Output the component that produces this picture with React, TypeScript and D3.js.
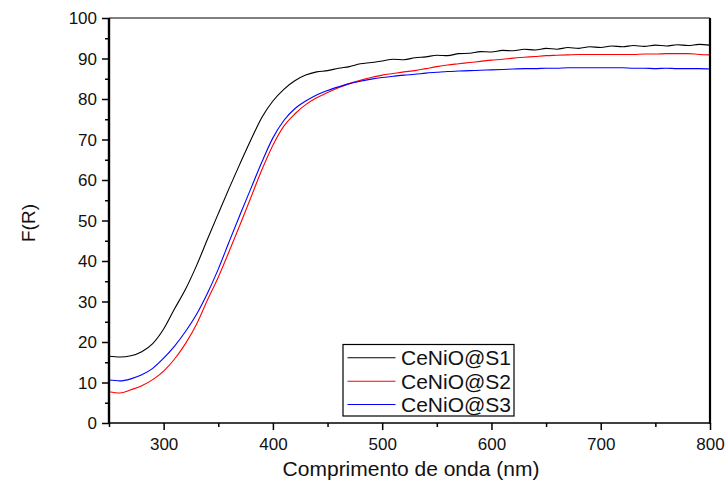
import React, { useEffect, useRef } from "react";
import * as d3 from "d3";

const wavelengths: number[] = [
  250, 260, 270, 280, 290, 300, 310, 320, 330, 340, 350, 360, 370, 380, 390, 400,
  410, 420, 430, 440, 450, 460, 470, 480, 490, 500, 510, 520, 530, 540, 550, 560,
  570, 580, 590, 600, 610, 620, 630, 640, 650, 660, 670, 680, 690, 700, 710, 720,
  730, 740, 750, 760, 770, 780, 790, 800,
];

const s1: number[] = [
  16.5, 16.3, 16.6, 17.6, 19.6, 23.2, 28.2, 33.0, 38.8, 45.3, 51.7, 58.0, 64.1, 70.0, 75.5, 79.5,
  82.4, 84.5, 85.9, 86.7, 87.0, 87.6, 88.0, 88.7, 89.0, 89.4, 89.8, 89.7, 90.2, 90.4, 90.8, 90.7,
  91.2, 91.3, 91.7, 91.6, 92.0, 91.9, 92.3, 92.1, 92.5, 92.3, 92.7, 92.5, 92.9, 92.7, 93.1, 92.9,
  93.2, 93.0, 93.3, 93.1, 93.4, 93.2, 93.5, 93.3,
];

const s2: number[] = [
  7.7, 7.4, 8.2, 9.2, 10.7, 12.8, 15.8, 19.6, 24.3, 30.3, 36.0, 42.4, 49.0, 55.8, 62.6, 68.6,
  73.3, 76.3, 78.6, 80.3, 81.6, 82.8, 83.8, 84.6, 85.3, 85.9, 86.3, 86.7, 87.0, 87.5, 88.0, 88.4,
  88.7, 89.0, 89.3, 89.6, 89.8, 90.1, 90.3, 90.5, 90.7, 90.8, 90.9, 91.0, 91.0, 91.0, 91.0, 91.0,
  91.0, 91.1, 91.1, 91.2, 91.2, 91.2, 91.0, 90.9,
];

const s3: number[] = [
  10.6, 10.4, 10.9, 11.9, 13.5, 16.0, 19.0, 22.6, 26.8, 32.0, 38.0, 44.8, 51.5, 58.0, 64.5, 70.4,
  74.7, 77.6, 79.5, 81.0, 82.1, 83.0, 83.8, 84.4, 84.9, 85.3, 85.6, 85.9, 86.1, 86.4, 86.6, 86.8,
  86.9, 87.0, 87.1, 87.2, 87.3, 87.4, 87.5, 87.5, 87.6, 87.6, 87.7, 87.7, 87.7, 87.7, 87.7, 87.7,
  87.6, 87.6, 87.5, 87.6, 87.5, 87.5, 87.5, 87.4,
];

const seriesNames: string[] = ["CeNiO@S1", "CeNiO@S2", "CeNiO@S3"];
const seriesColors: string[] = ["#000000", "#ff0000", "#0000ff"];
const xTicks: number[] = [300, 400, 500, 600, 700, 800];
const yTicks: number[] = [0, 10, 20, 30, 40, 50, 60, 70, 80, 90, 100];

const W = 726;
const H = 486;
const left = 109;
const right = 710;
const top = 18;
const bottom = 423;
const FONT = "'Liberation Sans', Arial, sans-serif";

export default function App() {
  const ref = useRef<SVGSVGElement | null>(null);

  useEffect(() => {
    const svg = d3.select(ref.current);
    svg.selectAll("*").remove();

    const x = d3.scaleLinear().domain([250, 800]).range([left, right]);
    const y = d3.scaleLinear().domain([0, 100]).range([bottom, top]);

    const series = [s1, s2, s3];

    const line = d3
      .line<number>()
      .x((_, i) => x(wavelengths[i]))
      .y((d) => y(d))
      .curve(d3.curveMonotoneX);

    const g = svg.append("g");
    series.forEach((vals, k) => {
      g.append("path")
        .attr("d", line(vals) as string)
        .attr("fill", "none")
        .attr("stroke", seriesColors[k])
        .attr("stroke-width", 1.1);
    });

    const xMinor = d3.range(250, 801, 50).filter((v) => !xTicks.includes(v));
    const yMinor = d3.range(5, 100, 10);

    const xAxis = d3.axisBottom(x).tickValues(xTicks).tickSize(7).tickSizeOuter(0).tickPadding(8);
    const xAxisMinor = d3.axisBottom(x).tickValues(xMinor).tickSize(4).tickSizeOuter(0).tickFormat(() => "");
    const yAxis = d3.axisLeft(y).tickValues(yTicks).tickSize(7).tickSizeOuter(0).tickPadding(5);
    const yAxisMinor = d3.axisLeft(y).tickValues(yMinor).tickSize(4).tickSizeOuter(0).tickFormat(() => "");

    const gx = svg.append("g").attr("transform", `translate(0,${bottom})`).call(xAxis);
    const gxm = svg.append("g").attr("transform", `translate(0,${bottom})`).call(xAxisMinor);
    const gy = svg.append("g").attr("transform", `translate(${left},0)`).call(yAxis);
    const gym = svg.append("g").attr("transform", `translate(${left},0)`).call(yAxisMinor);

    [gx, gxm, gy, gym].forEach((a) => {
      a.select(".domain").remove();
      a.selectAll("line").attr("stroke", "#000").attr("stroke-width", 1.5);
      a.selectAll("text")
        .attr("font-family", FONT)
        .attr("font-size", 17)
        .attr("fill", "#111");
    });
    gy.selectAll("text").attr("dy", "0.35em");

    svg.append("line").attr("x1", left).attr("x2", right).attr("y1", top).attr("y2", top)
      .attr("stroke", "#000").attr("stroke-width", 1.2);
    svg.append("line").attr("x1", right).attr("x2", right).attr("y1", top).attr("y2", bottom + 1)
      .attr("stroke", "#000").attr("stroke-width", 2.2);
    svg.append("line").attr("x1", left).attr("x2", right).attr("y1", bottom).attr("y2", bottom)
      .attr("stroke", "#000").attr("stroke-width", 1.6);
    svg.append("line").attr("x1", left).attr("x2", left).attr("y1", top).attr("y2", bottom + 1)
      .attr("stroke", "#000").attr("stroke-width", 2.4);

    svg.append("text")
      .attr("x", 411)
      .attr("y", 476)
      .attr("text-anchor", "middle")
      .attr("font-family", FONT)
      .attr("font-size", 21)
      .attr("fill", "#111")
      .text("Comprimento de onda (nm)");
    svg.append("text")
      .attr("transform", `translate(35,223) rotate(-90)`)
      .attr("text-anchor", "middle")
      .attr("font-family", FONT)
      .attr("font-size", 19)
      .attr("fill", "#111")
      .text("F(R)");

    const lg = svg.append("g");
    lg.append("rect")
      .attr("x", 343).attr("y", 344.5).attr("width", 171).attr("height", 71.5)
      .attr("fill", "#fff").attr("stroke", "#000").attr("stroke-width", 1.2);
    const rowsY = [357.7, 381.2, 404.5];
    seriesNames.forEach((name, k) => {
      lg.append("line")
        .attr("x1", 347.5).attr("x2", 395.5).attr("y1", rowsY[k]).attr("y2", rowsY[k])
        .attr("stroke", seriesColors[k]).attr("stroke-width", 1.1);
      lg.append("text")
        .attr("x", 401).attr("y", rowsY[k]).attr("dy", "0.36em")
        .attr("font-family", FONT).attr("font-size", 21).attr("fill", "#111")
        .text(name);
    });
  }, []);

  return (
    <svg
      ref={ref}
      width={W}
      height={H}
      style={{ position: "absolute", left: 0, top: 0, background: "#fff" }}
    />
  );
}
